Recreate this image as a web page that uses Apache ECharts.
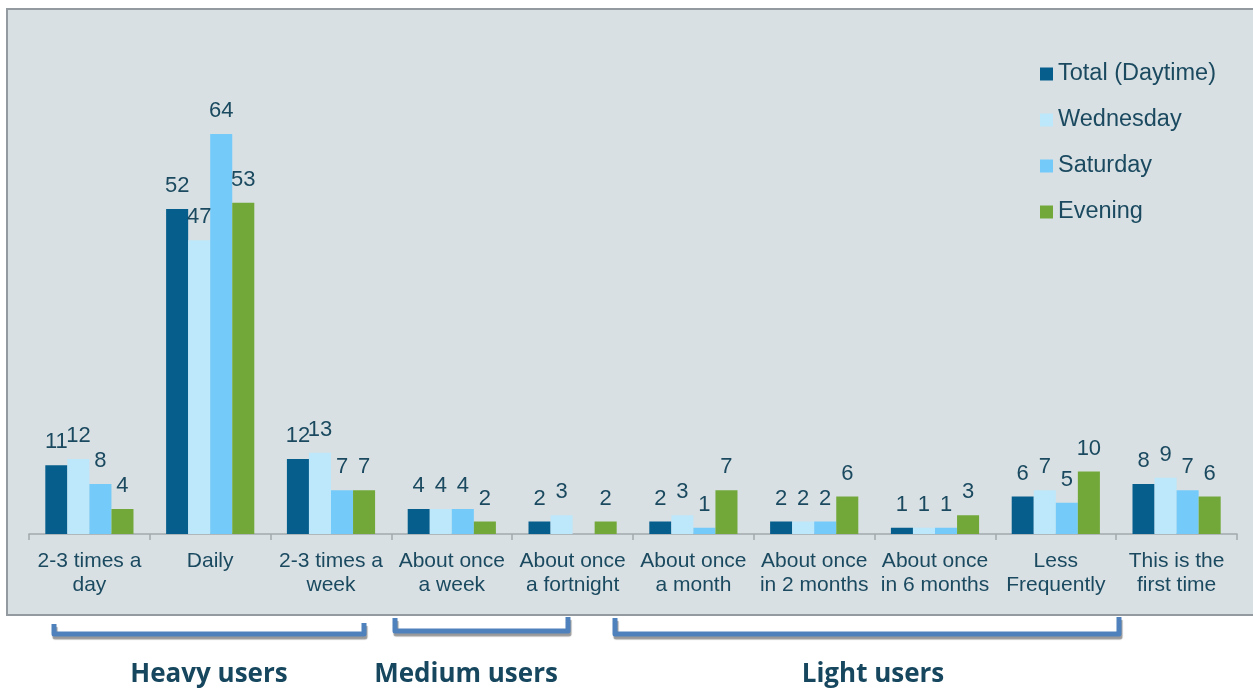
<!DOCTYPE html>
<html>
<head>
<meta charset="utf-8">
<script src="https://cdn.jsdelivr.net/npm/echarts@6/dist/echarts.min.js"></script>
<style>
html,body{margin:0;padding:0;background:#fff;}
#chart{width:1253px;height:688px;}
</style>
</head>
<body>
<div id="chart"></div>
<script>
const categories = ['2-3 times a\nday', 'Daily', '2-3 times a\nweek', 'About once\na week', 'About once\na fortnight', 'About once\na month', 'About once\nin 2 months', 'About once\nin 6 months', 'Less\nFrequently', 'This is the\nfirst time'];
const seriesNames = ['Total (Daytime)', 'Wednesday', 'Saturday', 'Evening'];
const totalDaytime = [11, 52, 12, 4, 2, 2, 2, 1, 6, 8];
const wednesday = [12, 47, 13, 4, 3, 3, 2, 1, 7, 9];
const saturday = [8, 64, 7, 4, null, 1, 2, 1, 5, 7];
const evening = [4, 53, 7, 2, 2, 7, 6, 3, 10, 6];
const groupLabels = ['Heavy users', 'Medium users', 'Light users'];

const colors = ['#065e8d', '#bde7fa', '#74cbfa', '#72a83a'];
const textColor = '#1b4a60';
const seriesData = [totalDaytime, wednesday, saturday, evening];

const chart = echarts.init(document.getElementById('chart'));

const bracket = (pts) => ({
  type: 'polyline',
  z: 5,
  shape: { points: pts },
  style: {
    stroke: '#4f81bd', lineWidth: 5, fill: null, lineJoin: 'round', lineCap: 'butt',
    shadowColor: 'rgba(0,0,0,0.4)', shadowOffsetX: 1, shadowOffsetY: 3, shadowBlur: 1
  }
});
const groupText = (label, x) => ({
  type: 'text', z: 5, x: x, y: 675,
  style: {
    text: label, fill: '#17475e', font: 'bold 26px "Open Sans", sans-serif',
    align: 'center', verticalAlign: 'middle'
  }
});

chart.setOption({
  animation: false,
  color: colors,
  graphic: [
    { type: 'rect', z: -10, shape: { x: 7, y: 9, width: 1260, height: 606 },
      style: { fill: '#d8e0e3', stroke: '#939ba0', lineWidth: 2 } },
    bracket([[54, 624], [54, 634], [364, 634], [364, 623]]),
    bracket([[395, 618], [395, 631], [568, 631], [568, 617]]),
    bracket([[615, 618], [615, 634], [1119, 634], [1119, 617]]),
    groupText(groupLabels[0], 209),
    groupText(groupLabels[1], 466),
    groupText(groupLabels[2], 873)
  ],
  legend: {
    orient: 'vertical',
    left: 1040,
    top: 62,
    padding: 0,
    itemWidth: 13,
    itemHeight: 13,
    itemGap: 22,
    itemTextGap: 4,
    icon: 'rect',
    textStyle: { color: textColor, fontSize: 23.5, fontFamily: 'Liberation Sans, Arial, sans-serif', lineHeight: 24 },
    data: seriesNames
  },
  grid: { left: 29, right: 16, top: 34, bottom: 154, containLabel: false },
  xAxis: {
    type: 'category',
    data: categories,
    axisLine: { lineStyle: { color: '#a3a9ad', width: 1.5 } },
    axisTick: { show: true, length: 6, lineStyle: { color: '#a3a9ad', width: 1.5 } },
    axisLabel: {
      color: textColor, fontSize: 21, fontFamily: 'Liberation Sans, Arial, sans-serif',
      lineHeight: 24, margin: 15, interval: 0
    }
  },
  yAxis: { type: 'value', min: 0, max: 80, show: false, splitLine: { show: false } },
  series: seriesNames.map((name, i) => ({
    name: name,
    type: 'bar',
    data: seriesData[i],
    barGap: '0%',
    barCategoryGap: '27%',
    itemStyle: { color: colors[i] },
    label: {
      show: true, position: 'top', distance: 12,
      color: textColor, fontSize: 22, fontFamily: 'Liberation Sans, Arial, sans-serif'
    }
  }))
});
</script>
</body>
</html>
